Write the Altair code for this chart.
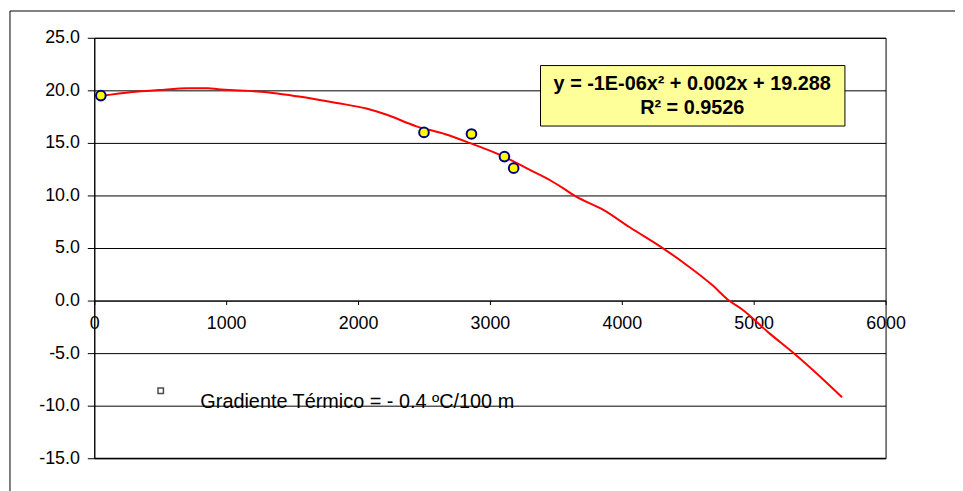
import altair as alt
import pandas as pd

# Observed data points (altitude m, temperature ºC)
obs_x = [50, 2500, 2860, 3110, 3180]
obs_y = [19.5, 16.0, 15.85, 13.7, 12.6]

# Polynomial trendline
trend_x = [50, 285, 488, 713, 863, 938, 1163, 1388, 1538, 1838, 2063, 2213, 2438,
           2663, 2838, 3113, 3288, 3463, 3563, 3638, 3863, 4063, 4313, 4463, 4688,
           4813, 4913, 5113, 5313, 5488, 5670]
trend_y = [19.46, 19.84, 20.03, 20.2, 20.2, 20.1, 19.95, 19.7, 19.43, 18.8, 18.27,
           17.7, 16.6, 15.82, 15.03, 13.65, 12.52, 11.4, 10.63, 10.0, 8.6, 6.95,
           4.97, 3.65, 1.45, 0.0, -0.85, -3.05, -5.1, -7.05, -9.2]

y_ticks = [-15, -10, -5, 0, 5, 10, 15, 20, 25]
x_ticks = [0, 1000, 2000, 3000, 4000, 5000, 6000]

eq_line1 = "y = -1E-06x² + 0.002x + 19.288"
eq_line2 = "R² = 0.9526"
legend_label = "Gradiente Térmico = - 0.4 ºC/100 m"

FONT = "Liberation Sans"
W, H = 798, 424

obs = pd.DataFrame({"x": obs_x, "y": obs_y})
trend = pd.DataFrame({"x": trend_x, "y": trend_y})
one = pd.DataFrame({"a": [0]})

xscale = alt.Scale(domain=[0, 6000], nice=False, zero=False)
yscale = alt.Scale(domain=[-15, 25], nice=False, zero=False)

xaxis = alt.Axis(values=x_ticks, format="d", grid=False, offset=-159,
                 domainColor="black", domainWidth=1, tickColor="black", tickSize=4,
                 labelFont=FONT, labelFontSize=18, labelColor="black",
                 labelPadding=10, labelFlush=False, title=None)
yaxis = alt.Axis(values=y_ticks, grid=True, gridColor="black",
                 labelExpr="(datum.value < 0 ? '-' : '') + format(abs(datum.value), '.1f')",
                 gridWidth=1, domainColor="black", tickColor="black", tickSize=7,
                 labelFont=FONT, labelFontSize=18, labelColor="black",
                 labelPadding=8, title=None)

frame = alt.Chart(one).mark_rect(fill=None, stroke="black", strokeWidth=1).encode(
    x=alt.value(-85), x2=alt.value(950), y=alt.value(-27), y2=alt.value(520))

bottom_rule = alt.Chart(one).mark_rule(color="black", strokeWidth=1).encode(
    y=alt.datum(-15, scale=yscale))

line = alt.Chart(trend).mark_line(color="#FF0000", strokeWidth=2,
                                  interpolate="monotone").encode(
    x=alt.X("x:Q", scale=xscale, axis=xaxis),
    y=alt.Y("y:Q", scale=yscale, axis=yaxis))

points = alt.Chart(obs).mark_point(filled=True, fill="#FFFF00", stroke="#000080",
                                   strokeWidth=2, size=95, opacity=1).encode(
    x=alt.X("x:Q", scale=xscale), y=alt.Y("y:Q", scale=yscale))

eq_box = alt.Chart(one).mark_rect(fill="#FFFF99", stroke="black", strokeWidth=1).encode(
    x=alt.value(450), x2=alt.value(757), y=alt.value(28), y2=alt.value(89))

eq_text1 = alt.Chart(one).mark_text(font=FONT, fontSize=20, fontWeight="bold",
                                    color="black", align="center", baseline="middle").encode(
    x=alt.value(603), y=alt.value(47), text=alt.value(eq_line1))
eq_text2 = alt.Chart(one).mark_text(font=FONT, fontSize=20, fontWeight="bold",
                                    color="black", align="center", baseline="middle").encode(
    x=alt.value(603), y=alt.value(71), text=alt.value(eq_line2))

leg_sym = alt.Chart(one).mark_square(filled=False, stroke="black", strokeWidth=1.5,
                                     size=30).encode(x=alt.value(67), y=alt.value(356))
leg_text = alt.Chart(one).mark_text(font=FONT, fontSize=20, color="black",
                                    align="left", baseline="middle").encode(
    x=alt.value(107), y=alt.value(367), text=alt.value(legend_label))

chart = alt.layer(frame, bottom_rule, line, points, eq_box, eq_text1, eq_text2,
                  leg_sym, leg_text).properties(
    width=W, height=H,
    autosize=alt.AutoSizeParams(type="none"),
    padding={"left": 87, "top": 28, "right": 70, "bottom": 31},
    background="white",
).configure_view(stroke="black", strokeWidth=1)

chart.save("out.html", embed_options={"renderer": "svg", "actions": False})
